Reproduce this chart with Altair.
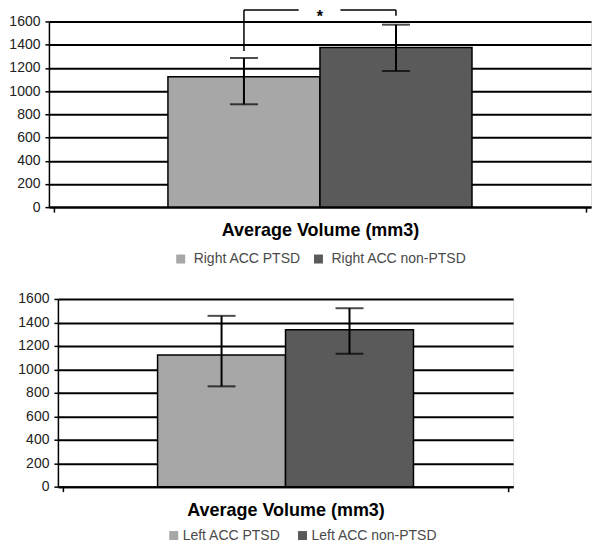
import altair as alt
import pandas as pd

# ---- data ----
series_top = ["Right ACC PTSD", "Right ACC non-PTSD"]
mean_top = [1124, 1376]
err_low_top = [886, 1173]
err_high_top = [1285, 1572]

series_bottom = ["Left ACC PTSD", "Left ACC non-PTSD"]
mean_bottom = [1122, 1337]
err_low_bottom = [855, 1133]
err_high_bottom = [1456, 1521]

y_ticks = [0, 200, 400, 600, 800, 1000, 1200, 1400, 1600]
bar_colors = ["#a7a7a7", "#5a5a5a"]

# significance bracket (top panel)
bracket_level = 1698
bracket_leg_ends = [1345, 1650]
bracket_arm_ends = [0.86, 1.135]   # bar-index positions where the arms stop around the star
bracket_label = "*"

FONT = "Liberation Sans"


def make_panel(series, means, lows, highs, width, height, x_pad, y_extent,
               legend_x, legend_y, label_offset, col_pad, bracket=False):
    n = len(series)
    df = pd.DataFrame({
        "series": series,
        "mean": means,
        "zero": [0] * n,
        "lo": lows,
        "hi": highs,
        "start": [i for i in range(n)],
        "end": [i + 1 for i in range(n)],
        "center": [i + 0.5 for i in range(n)],
    })
    xscale = alt.Scale(domain=[-x_pad, n + x_pad], nice=False, zero=False)
    yscale = alt.Scale(domain=[0, 1600], nice=False, zero=True, padding=0)
    xaxis = alt.Axis(values=[-x_pad, n + x_pad], labels=False, ticks=True,
                     tickSize=5, tickWidth=1.5, tickColor="black", grid=False,
                     domainColor="black", domainWidth=2,
                     title="Average Volume (mm3)", titleFont=FONT,
                     titleFontSize=18, titleFontWeight="bold",
                     titleColor="black", titlePadding=9)
    yaxis = alt.Axis(values=y_ticks, format="d", title=None, labelFont=FONT,
                     labelFontSize=14, labelColor="#222222", labelPadding=5,
                     labelOverlap=False,
                     tickSize=4, tickColor="black", tickWidth=1.5,
                     domainColor="black", domainWidth=1.5,
                     grid=True, gridColor="black", gridWidth=2,
                     minExtent=y_extent, maxExtent=y_extent)

    def X(f):
        return alt.X(f, scale=xscale, axis=xaxis)

    def Y(f):
        return alt.Y(f, scale=yscale, axis=yaxis)

    base = alt.Chart(df)
    bars = base.mark_bar(stroke="black", strokeWidth=1.5, orient="vertical").encode(
        x=X("start:Q"),
        x2="end:Q",
        y=Y("mean:Q"),
        y2="zero:Q",
        color=alt.Color("series:N",
                        scale=alt.Scale(domain=series, range=bar_colors),
                        legend=alt.Legend(orient="none", legendX=legend_x, legendY=legend_y,
                                          direction="horizontal", columns=2, title=None,
                                          symbolType="square", symbolSize=81,
                                          symbolStrokeWidth=0, symbolOpacity=1,
                                          labelFont=FONT, labelFontSize=14,
                                          labelColor="#4a4a4a", labelOffset=label_offset,
                                          columnPadding=col_pad)),
    )
    err = base.mark_rule(color="black", strokeWidth=2).encode(
        x=X("center:Q"), y=Y("lo:Q"), y2="hi:Q")
    cap_lo = base.mark_tick(orient="horizontal", size=28, thickness=2, color="black").encode(
        x=X("center:Q"), y=Y("lo:Q"))
    cap_hi = base.mark_tick(orient="horizontal", size=28, thickness=2, color="black").encode(
        x=X("center:Q"), y=Y("hi:Q"))
    layers = [bars, err, cap_lo, cap_hi]

    if bracket:
        centers = list(df["center"])
        legs = pd.DataFrame({"x": centers, "y": [bracket_level] * n, "y2": bracket_leg_ends})
        arms = pd.DataFrame({"x": [centers[0], bracket_arm_ends[1]],
                             "x2": [bracket_arm_ends[0], centers[1]],
                             "y": [bracket_level] * 2})
        star = pd.DataFrame({"x": [float(n) / 2], "y": [bracket_level], "t": [bracket_label]})
        layers.append(alt.Chart(legs).mark_rule(color="black", strokeWidth=1.5).encode(
            x=X("x:Q"), y=Y("y:Q"), y2="y2:Q"))
        layers.append(alt.Chart(arms).mark_rule(color="black", strokeWidth=1.5).encode(
            x=X("x:Q"), x2="x2:Q", y=Y("y:Q")))
        layers.append(alt.Chart(star).mark_text(font=FONT, fontSize=16, fontWeight="bold",
                                                baseline="top", dy=-1, color="black").encode(
            x=X("x:Q"), y=Y("y:Q"), text="t:N"))

    return alt.layer(*layers).properties(width=width, height=height)


top = make_panel(series_top, mean_top, err_low_top, err_high_top,
                 width=543, height=186, x_pad=0.75, y_extent=40,
                 legend_x=125, legend_y=186 + 45,
                 label_offset=6, col_pad=10, bracket=True)
bottom = make_panel(series_bottom, mean_bottom, err_low_bottom, err_high_bottom,
                    width=456, height=188, x_pad=0.74, y_extent=49,
                    legend_x=109, legend_y=188 + 42,
                    label_offset=2, col_pad=14)

# invisible 1px cell that indents the lower panel a little, as in the reference
spacer = alt.Chart(pd.DataFrame({"v": [0]})).mark_point(
    opacity=0, size=1, strokeWidth=0, filled=True
).encode(
    x=alt.X("v:Q", axis=None), y=alt.Y("v:Q", axis=None)
).properties(width=1, height=1,
             view=alt.ViewBackground(fill="transparent", stroke="transparent"))

bottom_row = alt.hconcat(spacer, bottom, spacing=8, bounds="flush").resolve_scale(
    color="independent", x="independent", y="independent"
).resolve_legend(color="independent")

chart = alt.vconcat(top, bottom_row, spacing=24).resolve_scale(
    color="independent", x="independent", y="independent"
).resolve_legend(color="independent").properties(
    padding={"left": 0, "top": 0, "right": 0, "bottom": 0}
).configure_view(fill="#c2c2c2", stroke="black", strokeWidth=1.5).configure(
    background="white")

chart.save("out.html", embed_options={"renderer": "svg", "actions": False})
